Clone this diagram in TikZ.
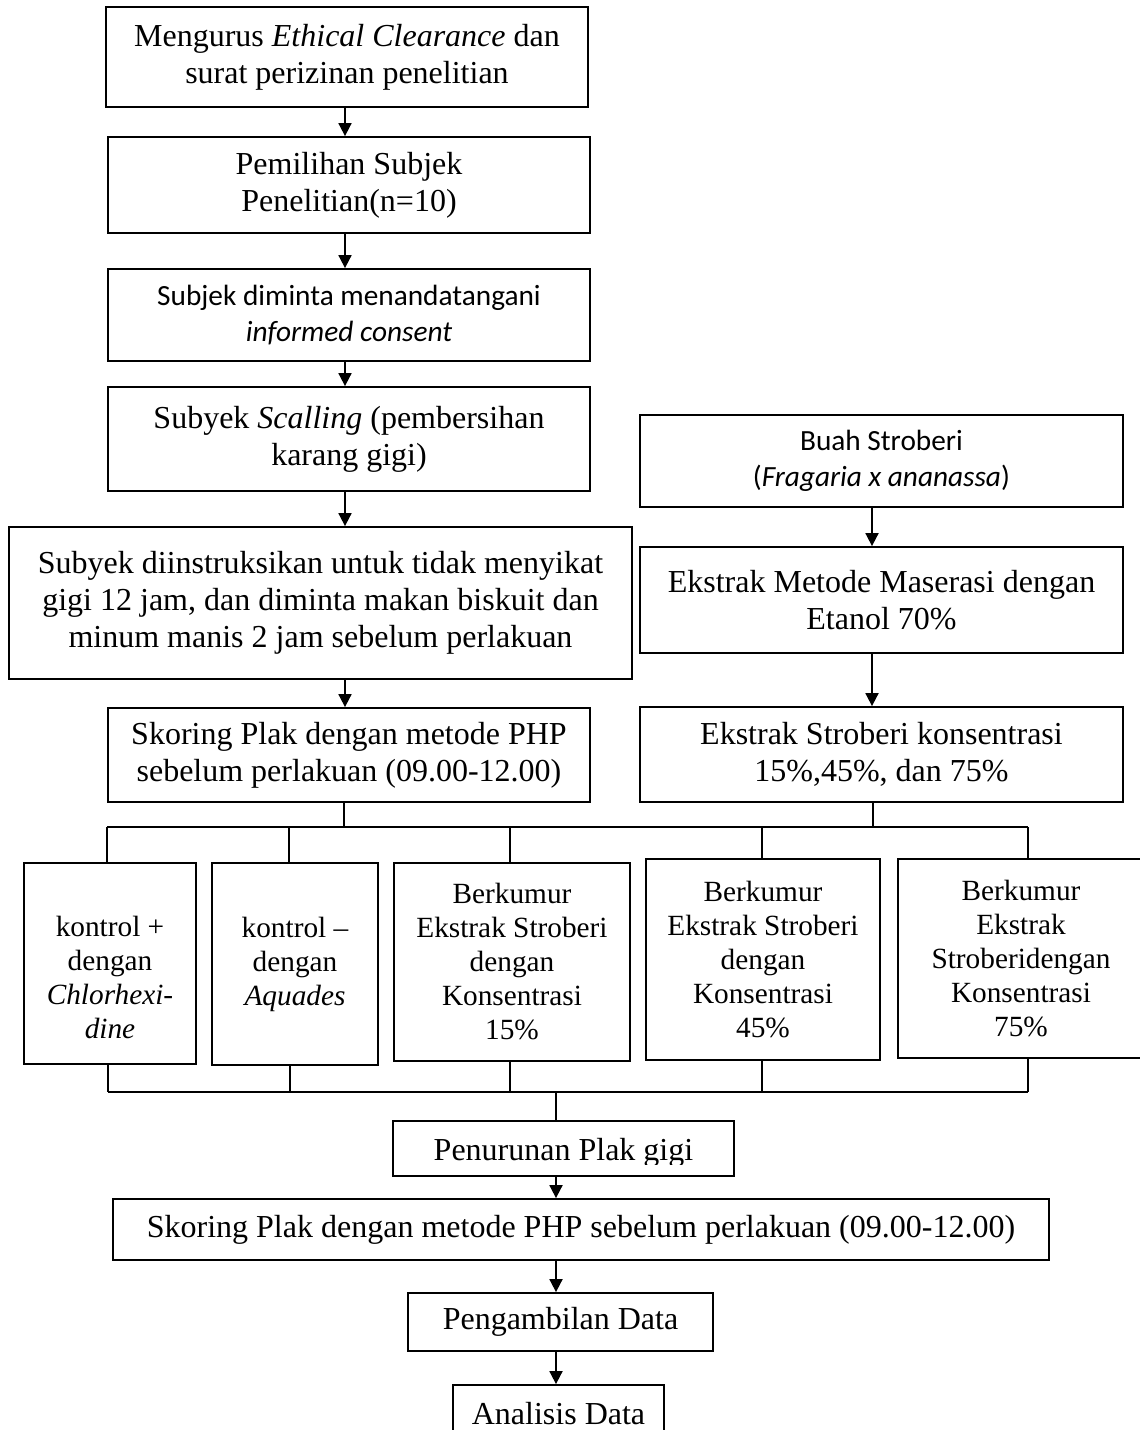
\documentclass[tikz,border=0pt]{standalone}
\usepackage{fontspec}
\setmainfont{Liberation Serif}
\newfontfamily\calibrifont{Carlito}
\usetikzlibrary{arrows.meta}
\begin{document}
\begin{tikzpicture}[x=1pt,y=-1pt,
  bx/.style={draw, line width=1.8pt, inner sep=0pt, align=center, font=\fontsize{32}{36.8}\selectfont},
  sbx/.style={bx, font=\fontsize{29.3}{34}\selectfont},
  cbx/.style={bx, font=\calibrifont\fontsize{29.3}{35.5}\selectfont},
  txt/.style={inner sep=0pt, align=center},
  arr/.style={line width=1.8pt, -{Triangle[length=13pt,width=13pt]}},
  ln/.style={line width=1.8pt}]
\useasboundingbox (0,0) rectangle (1140,1430);
\clip (0,0) rectangle (1140,1430);
% left column
\node[bx, minimum width=482pt, minimum height=100pt] (b1) at (347,57) {Mengurus \textit{Ethical Clearance} dan\\surat perizinan penelitian};
\node[bx, minimum width=482pt, minimum height=96pt] (b2) at (349,185) {Pemilihan Subjek\\Penelitian(n=10)};
\node[cbx, minimum width=482pt, minimum height=92pt] (b3) at (349,315) {Subjek diminta menandatangani\\\textit{informed consent}};
\node[bx, minimum width=482pt, minimum height=104pt] (b4) at (349,439) {Subyek \textit{Scalling} (pembersihan\\karang gigi)};
\node[bx, minimum width=623pt, minimum height=152pt] (b5) at (320.5,603) {Subyek diinstruksikan untuk tidak menyikat\\gigi 12 jam, dan diminta makan biskuit dan\\minum manis 2 jam sebelum perlakuan};
\node[bx, minimum width=482pt, minimum height=94pt] (b6) at (349,755) {Skoring Plak dengan metode PHP\\sebelum perlakuan (09.00-12.00)};
% right column
\node[cbx, minimum width=483pt, minimum height=92pt] (r1) at (881.5,461) {Buah Stroberi\\(\textit{Fragaria x ananassa})};
\node[bx, minimum width=483pt, minimum height=106pt] (r2) at (881.5,600) {Ekstrak Metode Maserasi dengan\\Etanol 70\%};
\node[bx, minimum width=483pt, minimum height=95pt] (r3) at (881.5,754.5) {Ekstrak Stroberi konsentrasi\\15\%,45\%, dan 75\%};
% arrow columns
\coordinate (ax) at (345,0);
\coordinate (rx) at (872,0);
\coordinate (cx) at (556,0);
\draw[arr] (b1.south -| ax) -- (b2.north -| ax);
\draw[arr] (b2.south -| ax) -- (b3.north -| ax);
\draw[arr] (b3.south -| ax) -- (b4.north -| ax);
\draw[arr] (b4.south -| ax) -- (b5.north -| ax);
\draw[arr] (b5.south -| ax) -- (b6.north -| ax);
\draw[arr] (r1.south -| rx) -- (r2.north -| rx);
\draw[arr] (r2.south -| rx) -- (r3.north -| rx);
% five treatment boxes
\node[bx, minimum width=172pt, minimum height=201pt] (ka) at (110,963.5) {};
\node[txt, font=\fontsize{29.3}{34}\selectfont] (kat) at (110,977) {kontrol +\\dengan\\\textit{Chlorhexi-}\\\textit{dine}};
\node[sbx, minimum width=166pt, minimum height=202pt] (kb) at (295,964) {kontrol –\\dengan\\\textit{Aquades}};
\node[sbx, minimum width=236pt, minimum height=198pt] (kc) at (512,962) {Berkumur\\Ekstrak Stroberi\\dengan\\Konsentrasi\\15\%};
\node[sbx, minimum width=234pt, minimum height=201pt] (kd) at (763,959.5) {Berkumur\\Ekstrak Stroberi\\dengan\\Konsentrasi\\45\%};
\node[sbx, minimum width=246pt, minimum height=199pt] (ke) at (1021,958.5) {Berkumur\\Ekstrak\\Stroberidengan\\Konsentrasi\\75\%};
% upper bus
\coordinate (u1) at (107,827);
\coordinate (u2) at (289,827);
\coordinate (u3) at (510,827);
\coordinate (u4) at (762,827);
\coordinate (u5) at (1028,827);
\coordinate (ls) at (344,827);
\coordinate (rs) at (873,827);
\draw[ln] (u1) -- (u5);
\draw[ln] (b6.south -| ls) -- (ls);
\draw[ln] (r3.south -| rs) -- (rs);
\draw[ln] (u1) -- (u1 |- ka.north);
\draw[ln] (u2) -- (u2 |- kb.north);
\draw[ln] (u3) -- (u3 |- kc.north);
\draw[ln] (u4) -- (u4 |- kd.north);
\draw[ln] (u5) -- (u5 |- ke.north);
% lower bus
\coordinate (v1) at (108,1092);
\coordinate (v2) at (290,1092);
\coordinate (v3) at (510,1092);
\coordinate (v4) at (762,1092);
\coordinate (v5) at (1028,1092);
\coordinate (vc) at (556,1092);
\draw[ln] (v1) -- (v5);
\draw[ln] (ka.south -| v1) -- (v1);
\draw[ln] (kb.south -| v2) -- (v2);
\draw[ln] (kc.south -| v3) -- (v3);
\draw[ln] (kd.south -| v4) -- (v4);
\draw[ln] (ke.south -| v5) -- (v5);
% bottom chain
\node[bx, minimum width=341pt, minimum height=55pt] (pen) at (563.5,1148.5) {};
\begin{scope}
\clip (395,1121) rectangle (732,1164);
\node[txt, anchor=base, font=\fontsize{32}{36.8}\selectfont] (pent) at (563.5,1160) {Penurunan Plak gigi};
\end{scope}
\node[bx, minimum width=936pt, minimum height=61pt] (sk2) at (581,1229.5) {Skoring Plak dengan metode PHP sebelum perlakuan (09.00-12.00)};
\node[bx, minimum width=305pt, minimum height=58pt] (pg) at (560.5,1322) {Pengambilan Data};
\node[bx, minimum width=211pt, minimum height=70pt] (an) at (558.5,1420) {};
\node[txt, anchor=base, font=\fontsize{32}{36.8}\selectfont] (ant) at (558.5,1424) {Analisis Data};
\draw[ln] (vc) -- (vc |- pen.north);
\draw[arr] (pen.south -| cx) -- (sk2.north -| cx);
\draw[arr] (sk2.south -| cx) -- (pg.north -| cx);
\draw[arr] (pg.south -| cx) -- (an.north -| cx);
\end{tikzpicture}
\end{document}
